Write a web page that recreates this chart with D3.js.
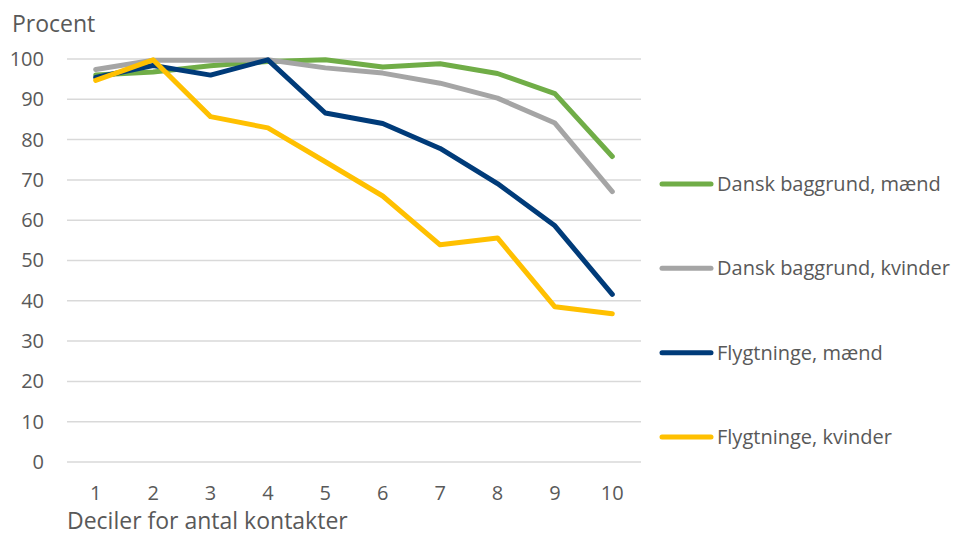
<!DOCTYPE html>
<html><head><meta charset="utf-8">
<script src="https://cdn.jsdelivr.net/npm/d3@7"></script>
<style>
body{margin:0;background:#fff;}
text{font-family:"Open Sans",sans-serif;fill:#595959;}
</style></head>
<body><svg id="c" width="960" height="536"></svg>
<script>
const deciles = ["1","2","3","4","5","6","7","8","9","10"];
const yTicks = [0,10,20,30,40,50,60,70,80,90,100];
const seriesNames = ["Dansk baggrund, mænd","Dansk baggrund, kvinder","Flygtninge, mænd","Flygtninge, kvinder"];
const seriesColors = ["#70AD47","#A5A5A5","#003B79","#FFC000"];
const danskMaend   = [96.0, 96.8, 98.3, 99.4, 99.8, 98.0, 98.8, 96.4, 91.4, 75.8];
const danskKvinder = [97.4, 99.7, 99.7, 99.8, 97.8, 96.5, 94.0, 90.3, 84.1, 67.1];
const flygtMaend   = [95.4, 98.4, 96.0, 99.8, 86.6, 84.0, 77.8, 69.1, 58.6, 41.6];
const flygtKvinder = [94.7, 99.8, 85.7, 82.9, 74.5, 66.0, 53.9, 55.6, 38.5, 36.8];
const seriesValues = [danskMaend, danskKvinder, flygtMaend, flygtKvinder];

(function(){
const svg = d3.select("#c");
const mLeft = 67, mRight = 641, mTop = 59, mBottom = 462;
const x = d3.scaleBand().domain(deciles).range([mLeft, mRight]);
const y = d3.scaleLinear().domain([0,100]).range([mBottom, mTop]);

svg.append("g").selectAll("line").data(yTicks).join("line")
  .attr("x1", mLeft).attr("x2", mRight)
  .attr("y1", d => y(d)).attr("y2", d => y(d))
  .attr("stroke", "#D9D9D9").attr("stroke-width", 1.5);

const yAxis = svg.append("g").attr("transform", `translate(44,0)`)
  .call(d3.axisLeft(y).tickValues(yTicks).tickSize(0).tickPadding(0));
yAxis.select(".domain").remove();
yAxis.selectAll("text").style("font-size","20px").attr("fill","#595959")
  .style("font-family","'Open Sans',sans-serif");

const xAxis = svg.append("g").attr("transform", `translate(0,${mBottom+24})`)
  .call(d3.axisBottom(x).tickSize(0).tickPadding(0));
xAxis.select(".domain").remove();
xAxis.selectAll("text").style("font-size","20px").attr("fill","#595959")
  .style("font-family","'Open Sans',sans-serif");

const line = d3.line().x((d,i) => x(deciles[i]) + x.bandwidth()/2).y(d => y(d));
svg.append("g").selectAll("path").data(seriesValues).join("path")
  .attr("d", d => line(d)).attr("fill","none")
  .attr("stroke", (d,i) => seriesColors[i]).attr("stroke-width", 5)
  .attr("stroke-linejoin","round").attr("stroke-linecap","round");

svg.append("text").attr("x", 12).attr("y", 32).style("font-size","23px").text("Procent");
svg.append("text").attr("x", 67).attr("y", 529).style("font-size","23px").text("Deciler for antal kontakter");

const legY = d3.scalePoint().domain(seriesNames).range([184, 437]);
const leg = svg.append("g").selectAll("g").data(seriesNames).join("g")
  .attr("transform", d => `translate(0,${legY(d)})`);
leg.append("line").attr("x1", 662).attr("x2", 711).attr("y1", 0).attr("y2", 0)
  .attr("stroke", (d,i) => seriesColors[i]).attr("stroke-width", 5).attr("stroke-linecap","round");
leg.append("text").attr("x", 717).attr("y", 0).attr("dy","0.35em").style("font-size","20px").text(d => d);
})();
</script></body></html>
